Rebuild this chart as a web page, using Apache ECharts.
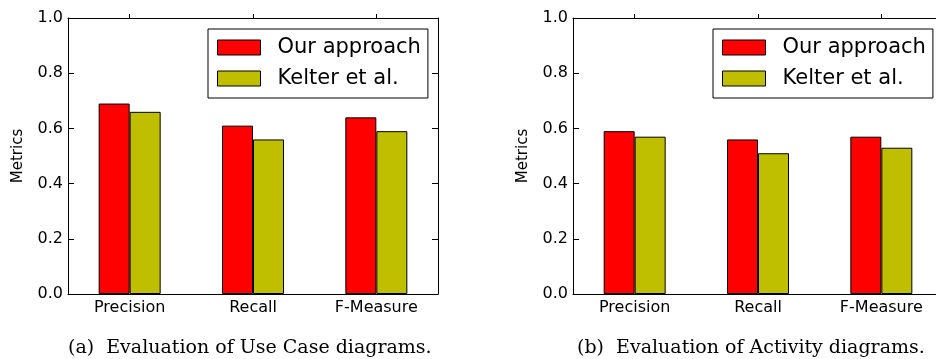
<!DOCTYPE html>
<html>
<head>
<meta charset="utf-8">
<script src="https://cdn.jsdelivr.net/npm/echarts@6/dist/echarts.min.js"></script>
<style>
  html, body { margin: 0; padding: 0; background: #fff; }
  #chart { width: 936px; height: 359px; }
</style>
</head>
<body>
<div id="chart"></div>
<script>
const categories = ["Precision", "Recall", "F-Measure"];
const seriesNames = ["Our approach", "Kelter et al."];
const useCaseOurs = [0.69, 0.61, 0.64];
const useCaseKelter = [0.66, 0.56, 0.59];
const activityOurs = [0.59, 0.56, 0.57];
const activityKelter = [0.57, 0.51, 0.53];
const captions = ["(a)  Evaluation of Use Case diagrams.", "(b)  Evaluation of Activity diagrams."];

const colors = ["#ff0000", "#bfbf00"];
const font = "DejaVu Sans";

const chart = echarts.init(document.getElementById("chart"));

const grids = [
  { left: 68, top: 18, width: 370, height: 276, outerBoundsMode: "none" },
  { left: 573, top: 18, width: 370, height: 276, outerBoundsMode: "none" },
];

const xAxes = [];
const yAxes = [];
grids.forEach((g, i) => {
  xAxes.push({
    type: "category", gridIndex: i, data: categories, position: "bottom",
    axisLine: { onZero: false, lineStyle: { color: "#000", width: 1 } },
    axisTick: { inside: true, alignWithLabel: true, interval: 0, length: 5, lineStyle: { color: "#000" } },
    axisLabel: { color: "#000", fontFamily: font, fontSize: 16, margin: 6, interval: 0 },
  });
  // top frame line with ticks at the category centres
  xAxes.push({
    type: "category", gridIndex: i, data: categories, position: "top",
    axisLine: { show: true, onZero: false, lineStyle: { color: "#000", width: 1 } },
    axisTick: { show: true, inside: false, alignWithLabel: true, interval: 0, length: 4, lineStyle: { color: "#000", width: 1 } },
    axisLabel: { show: true, interval: 0, color: "rgba(0,0,0,0)" },
  });
  yAxes.push({
    type: "value", gridIndex: i, min: 0, max: 1, interval: 0.2, position: "left",
    name: "Metrics", nameLocation: "middle", nameGap: 42,
    nameTextStyle: { color: "#000", fontFamily: font, fontSize: 15 },
    axisLine: { show: true, onZero: false, lineStyle: { color: "#000", width: 1 } },
    axisTick: { show: true, inside: true, length: 6, lineStyle: { color: "#000" } },
    axisLabel: { color: "#000", fontFamily: font, fontSize: 16, margin: 5,
      formatter: (v) => v.toFixed(1) },
    splitLine: { show: false },
  });
  yAxes.push({
    type: "value", gridIndex: i, min: 0, max: 1, interval: 0.2, position: "right",
    axisLine: { show: true, onZero: false, lineStyle: { color: "#000", width: 1 } },
    axisTick: { show: true, inside: true, length: 6, lineStyle: { color: "#000" } },
    axisLabel: { show: false },
    splitLine: { show: false },
  });
});

const data = [[useCaseOurs, useCaseKelter], [activityOurs, activityKelter]];
const series = [];
data.forEach((pair, i) => {
  pair.forEach((vals, j) => {
    series.push({
      name: seriesNames[j], type: "bar",
      xAxisIndex: i * 2, yAxisIndex: i * 2,
      data: vals, barWidth: 31, barGap: "0%",
      itemStyle: { color: colors[j], borderColor: "#000", borderWidth: 1 },
    });
  });
});

const legendLefts = [208, 713];
const legends = legendLefts.map((l) => ({
  orient: "vertical", left: l, top: 29,
  padding: [8, 7, 9, 9], itemGap: 10,
  itemWidth: 43, itemHeight: 15,
  borderColor: "#000", borderWidth: 1, borderRadius: 0,
  backgroundColor: "#fff",
  selectedMode: false,
  textStyle: { color: "#000", fontFamily: font, fontSize: 21, lineHeight: 20, padding: [0, 0, 0, 12] },
  data: seriesNames.map((n, j) => ({
    name: n, icon: "rect",
    itemStyle: { color: colors[j], borderColor: "#000", borderWidth: 1 },
  })),
}));

chart.setOption({
  animation: false,
  grid: grids,
  xAxis: xAxes,
  yAxis: yAxes,
  legend: legends,
  title: captions.map((c, i) => ({
    text: c, left: [63, 572][i], top: 334,
    textStyle: { color: "#000", fontFamily: "DejaVu Serif", fontSize: 19, fontWeight: "normal" },
  })),
  series: series,
});
</script>
</body>
</html>
